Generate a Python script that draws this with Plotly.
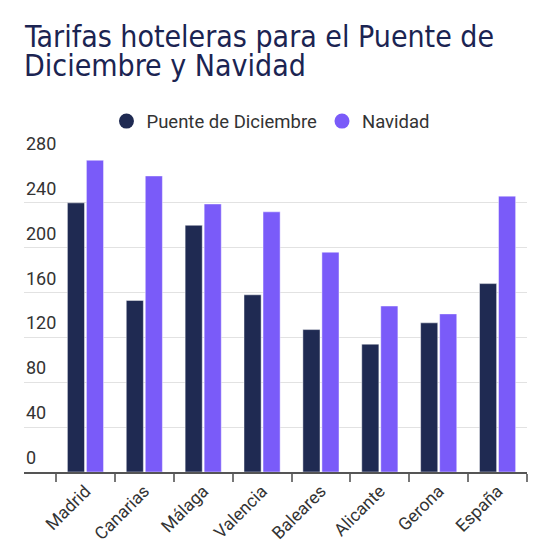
import plotly.graph_objects as go

regiones = ["Madrid", "Canarias", "Málaga", "Valencia", "Baleares", "Alicante", "Gerona", "España"]
puente_diciembre = [240, 153, 220, 158, 127, 114, 133, 168]
navidad = [278, 264, 239, 232, 196, 148, 141, 246]
eje_y = [0, 40, 80, 120, 160, 200, 240, 280]

AZUL = "#1f2a52"
MORADO = "#7a5bf9"

fig = go.Figure()
fig.add_trace(go.Bar(x=regiones, y=puente_diciembre, name="Puente de Diciembre",
                     marker=dict(color=AZUL, line=dict(color="rgba(255,255,255,0.45)", width=1)),
                     showlegend=False))
fig.add_trace(go.Bar(x=regiones, y=navidad, name="Navidad",
                     marker=dict(color=MORADO, line=dict(color="rgba(255,255,255,0.45)", width=1)),
                     showlegend=False))

# circulos de la leyenda
for nombre, color in [("Puente de Diciembre", AZUL), ("Navidad", MORADO)]:
    fig.add_trace(go.Scatter(x=[None], y=[None], mode="markers", name=nombre,
                             marker=dict(color=color, size=15, symbol="circle")))

# etiquetas del eje y encima de cada linea
for v in eje_y:
    fig.add_annotation(x=0, xref="paper", y=v, yref="y", text=str(v), showarrow=False,
                       xanchor="left", yanchor="bottom", yshift=2,
                       font=dict(family="Roboto", size=18, color="#333333"))

titulo = ["Tarifas hoteleras para el Puente de", "Diciembre y Navidad"]
for i, linea in enumerate(titulo):
    fig.add_annotation(x=0, xref="paper", y=[1.325, 1.233][i], yref="paper", text=linea,
                       showarrow=False, xanchor="left", yanchor="bottom", xshift=-2,
                       font=dict(family="DejaVu Sans Condensed, Roboto", size=30, color="#1b2452"))

# la pagina tiene 8px de margen en body: se descuenta del tamano
fig.update_layout(
    width=541, height=539,
    margin=dict(l=16, r=22, t=150, b=75),
    plot_bgcolor="white", paper_bgcolor="white",
    barmode="group", bargap=0.354, bargroupgap=0.1,
    legend=dict(orientation="h", x=0.491, xanchor="center", y=1.116, yanchor="middle",
                font=dict(family="Roboto", size=18.5, color="#333333")),
    xaxis=dict(range=[-1.044, 7.5], tickson="boundaries", ticks="outside", ticklen=8,
               tickcolor="#777777", tickwidth=1.5, showline=True, linecolor="#555555",
               linewidth=2, tickangle=-45, showgrid=False, automargin=False,
               tickfont=dict(family="Roboto", size=17.5, color="#333333")),
    yaxis=dict(range=[0, 280], tickvals=eje_y, showticklabels=False, showgrid=True,
               gridcolor="#e2e2e2", gridwidth=1, zeroline=False, automargin=False),
)

fig.write_html("out.html")
